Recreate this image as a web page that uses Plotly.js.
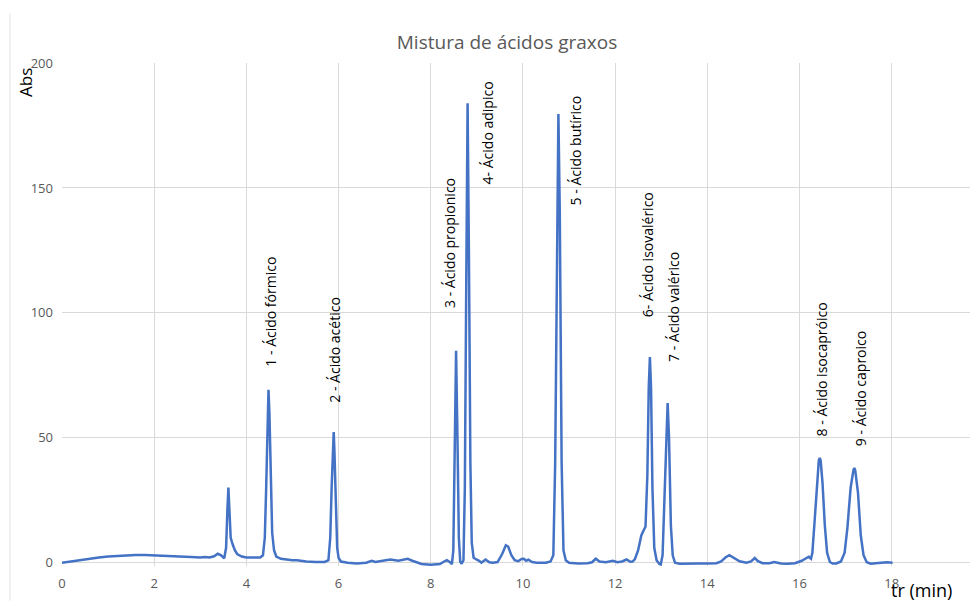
<!DOCTYPE html>
<html>
<head>
<meta charset="utf-8">
<script src="https://cdn.plot.ly/plotly-3.0.1.min.js"></script>
<style>html,body{margin:0;padding:0;background:#fff;}#chart{width:970px;height:601px;}</style>
</head>
<body>
<div id="chart"></div>
<script>
// Retention time (min)
const tr = [0,0.2,0.4,0.6,0.8,1.0,1.2,1.4,1.6,1.8,2.0,2.2,2.4,2.6,2.8,3.0,3.1,3.2,3.3,3.38,3.45,3.52,3.56,3.59,3.61,3.63,3.66,3.7,3.75,3.8,3.9,4.0,4.1,4.2,4.3,4.36,4.40,4.43,4.46,4.48,4.50,4.53,4.56,4.6,4.65,4.75,4.9,5.0,5.1,5.2,5.3,5.5,5.7,5.78,5.82,5.85,5.88,5.895,5.91,5.94,5.97,6.0,6.05,6.2,6.4,6.6,6.72,6.8,7.0,7.12,7.3,7.5,7.6,7.8,8.0,8.2,8.3,8.35,8.42,8.46,8.49,8.52,8.55,8.58,8.61,8.64,8.67,8.71,8.74,8.77,8.80,8.83,8.86,8.89,8.93,9.0,9.05,9.1,9.19,9.27,9.35,9.45,9.55,9.63,9.68,9.75,9.82,9.9,9.97,10.02,10.07,10.12,10.2,10.3,10.5,10.6,10.66,10.70,10.74,10.77,10.80,10.84,10.88,10.93,11.0,11.2,11.4,11.5,11.58,11.66,11.8,11.95,12.05,12.15,12.25,12.33,12.38,12.43,12.5,12.57,12.66,12.70,12.73,12.755,12.78,12.81,12.85,12.9,12.96,12.99,13.03,13.07,13.11,13.14,13.17,13.21,13.25,13.3,13.4,13.6,13.8,14.0,14.2,14.3,14.4,14.48,14.58,14.7,14.85,14.95,15.03,15.1,15.2,15.35,15.45,15.6,15.75,15.9,16.05,16.15,16.2,16.25,16.28,16.33,16.38,16.42,16.44,16.46,16.5,16.55,16.6,16.66,16.72,16.8,16.9,16.98,17.04,17.11,17.17,17.19,17.21,17.27,17.33,17.39,17.46,17.55,17.65,17.8,17.9,18.02];
// Absorbance
const abs = [0,0.6,1.2,1.7,2.1,2.5,2.8,3.0,3.1,3.1,3.0,2.9,2.7,2.5,2.3,2.1,2.3,2.1,2.6,3.6,3.0,1.8,6,22,30.1,22,10,7.5,5,3.5,2.5,2.1,2.0,2.0,2.1,3,10,30,58,69.2,60,30,12,5,2.5,1.6,1.2,1.0,1.0,0.6,0.5,0.3,0.3,1,10,30,50,52.3,45,22,6,2,0.5,0,-0.3,0,0.8,0.3,0.8,1.3,0.8,1.6,0.8,-0.5,-0.8,-0.5,0.6,1.0,0.2,-0.5,5,50,84.8,50,10,0.5,-0.4,1,30,110,183.9,120,40,8,2.0,1.2,0.8,0.0,1.3,0.2,0,0.3,3.5,7.0,6.5,3,1,0.6,1.5,1.6,0.8,1.2,0.3,0,0,0.5,3,40,140,179.6,140,40,5,1,0,-0.3,-0.2,0.2,1.6,0.5,0.2,0.8,0.2,0.5,1.3,0.4,0.5,1.5,5,11,14.5,35,70,82.3,70,30,6,1,-0.5,-0.7,3,25,55,63.9,50,15,3,0,-0.4,-0.5,-0.3,-0.3,-0.2,0.5,2.2,3.0,2.0,0.6,0.0,0.5,1.9,0.6,-0.2,-0.2,0.3,-0.3,-0.4,-0.2,0.8,2.0,2.4,1.6,4,17,33,41,41.9,41,32,15,4,0.3,-0.3,-0.3,0.5,4,14,30,37,37.9,37,28,11,3,0.2,-0.4,-0.2,0.1,0.2,0.0];

// Peak labels
const peakLabels = ["1 - Ácido fórmico","2 - Ácido acético","3 - Ácido propionico","4- Ácido adipico","5 - Ácido butírico","6- Ácido isovalérico","7 - Ácido valérico","8 - Ácido isocapróico","9 - Ácido caproico"];
const labelX = [4.53,5.92,8.42,9.22,11.14,12.69,13.28,16.48,17.31];
const labelY = [78,63.6,101.6,151.2,142.8,98,80,50,46.4];

const xTicks = [0,2,4,6,8,10,12,14,16,18];
const yTicks = [0,50,100,150,200];

const FONT = "Open Sans, Liberation Sans, sans-serif";

const annotations = peakLabels.map((t,i)=>({
  text:t, x:labelX[i], y:labelY[i], xref:'x', yref:'y',
  textangle:-90, showarrow:false, xanchor:'center', yanchor:'bottom',
  borderpad:0, font:{family:FONT,size:14,color:'#000'}
}));
annotations.push({text:'Abs', xref:'paper', yref:'paper', x:(26-62)/908, y:(566.25-83)/503.25,
  textangle:-90, showarrow:false, xanchor:'center', yanchor:'middle', font:{family:FONT,size:17,color:'#000'}});
annotations.push({text:'tr (min)', xref:'paper', yref:'paper', x:(921-62)/908, y:(566.25-590)/503.25,
  showarrow:false, xanchor:'center', yanchor:'middle', font:{family:FONT,size:18,color:'#000'}});

const layout = {
  width:970, height:601,
  margin:{l:62, r:0, t:63, b:34.75},
  paper_bgcolor:'#fff', plot_bgcolor:'#fff',
  showlegend:false,
  title:{text:'Mistura de ácidos graxos', x:507/970, xref:'container', xanchor:'center', y:1-42/601, yref:'container', yanchor:'middle',
    font:{family:FONT,size:19,color:'#595959'}},
  xaxis:{range:[0,19.7], tickvals:xTicks, ticktext:xTicks.map(String), showgrid:true, gridcolor:'#d9d9d9', gridwidth:1,
    zeroline:false, showline:false, ticks:'', automargin:false, ticklabelstandoff:8,
    tickfont:{family:FONT,size:13,color:'#595959'}},
  yaxis:{range:[-1.3,200], tickvals:yTicks, ticktext:yTicks.map(String), showgrid:true, gridcolor:'#d9d9d9', gridwidth:1,
    zeroline:true, zerolinecolor:'#d9d9d9', zerolinewidth:1, showline:false, ticks:'', automargin:false, ticklabelstandoff:8,
    tickfont:{family:FONT,size:13,color:'#595959'}},
  annotations:annotations,
  shapes:[{type:'line', xref:'paper', yref:'paper', x0:(10-62)/908, x1:(10-62)/908, y0:(566.25-13)/503.25, y1:(566.25-601)/503.25,
    line:{color:'#e3e3e3', width:1}}]
};

Plotly.newPlot('chart', [{
  x:tr, y:abs, type:'scatter', mode:'lines',
  line:{color:'#4472C4', width:2.5, shape:'linear'}, hoverinfo:'skip'
}], layout, {staticPlot:true});
</script>
</body>
</html>
